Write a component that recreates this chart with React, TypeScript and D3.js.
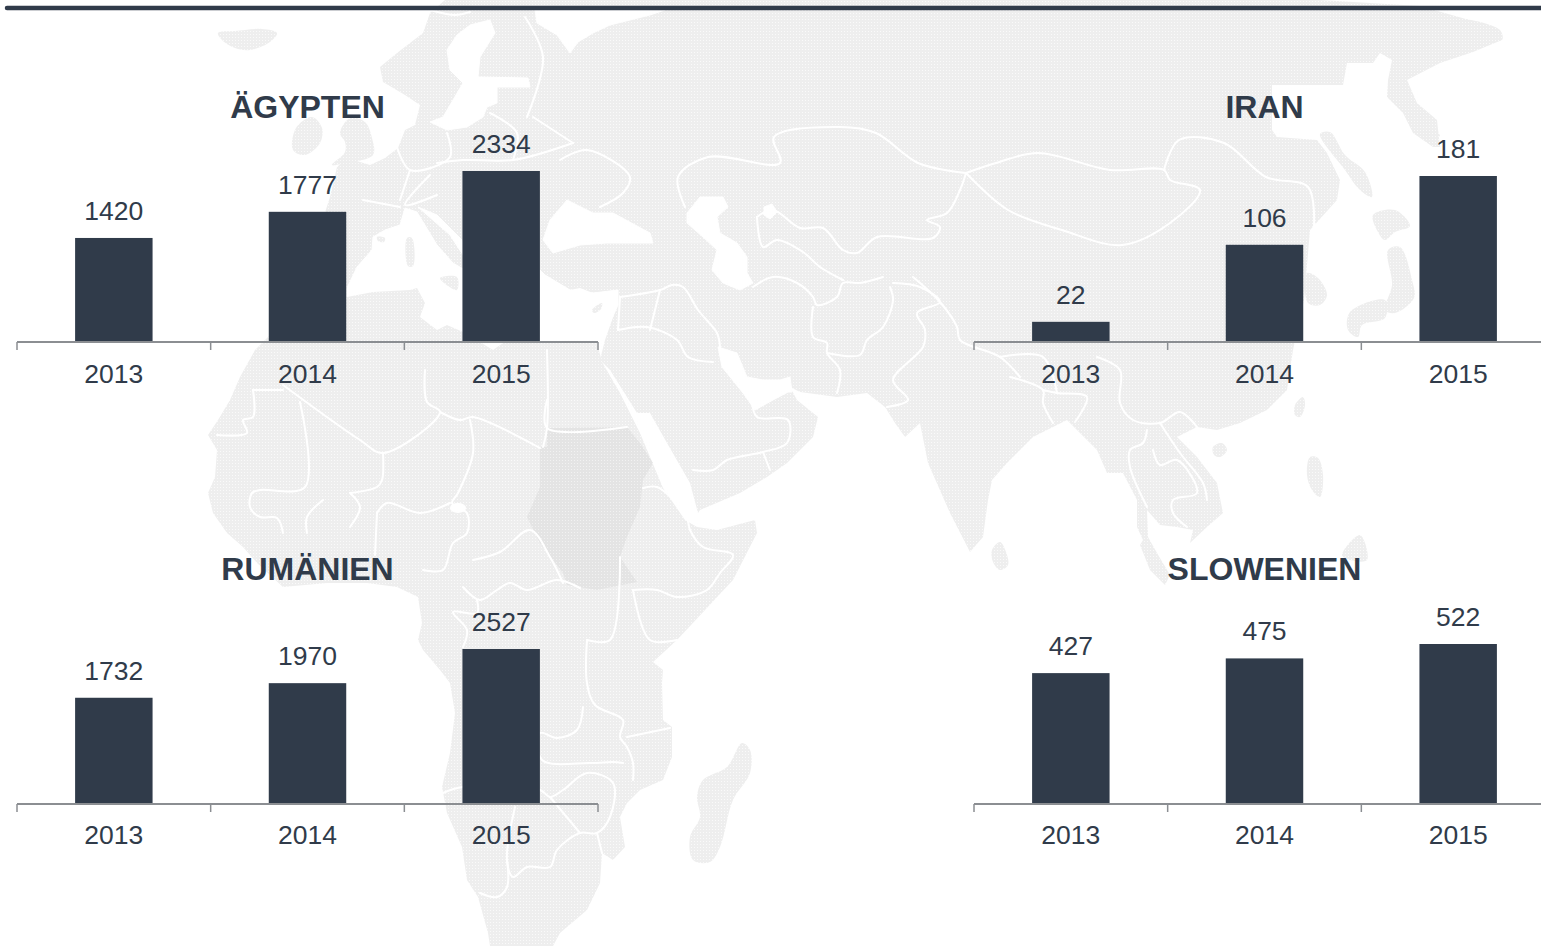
import React from "react";
import * as d3 from "d3";

// ---------- chart data ----------
const years = ["2013", "2014", "2015"];
const egyptValues = [1420, 1777, 2334];
const iranValues = [22, 106, 181];
const romaniaValues = [1732, 1970, 2527];
const sloveniaValues = [427, 475, 522];
const panelTitles = ["ÄGYPTEN", "IRAN", "RUMÄNIEN", "SLOWENIEN"];

// ---------- decorative backdrop map outlines ----------
type P = [number, number];
const eurasia: P[] = [[330,197],[337,167],[347,158],[370,165],[385,158],[398,148],[405,130],[415,125],[420,105],[405,95],[383,82],[380,67],[397,53],[423,33],[430,13],[445,0],[1320,0],[1420,6],[1494,27],[1502,40],[1473,52],[1440,63],[1407,80],[1417,103],[1437,120],[1440,147],[1433,147],[1413,133],[1403,113],[1387,97],[1388,80],[1392,60],[1380,53],[1373,63],[1347,63],[1343,85],[1272,85],[1272,130],[1277,137],[1317,140],[1327,153],[1340,180],[1337,200],[1310,230],[1304,300],[1293,350],[1287,390],[1267,410],[1240,423],[1217,430],[1197,427],[1177,437],[1197,457],[1217,483],[1223,513],[1207,527],[1190,543],[1193,530],[1177,527],[1160,525],[1147,510],[1148,537],[1157,553],[1170,575],[1165,585],[1150,570],[1140,545],[1143,540],[1137,527],[1137,500],[1123,473],[1107,473],[1097,450],[1080,433],[1067,420],[1033,437],[1007,463],[992,480],[988,500],[983,537],[970,552],[950,513],[928,463],[920,423],[905,437],[895,423],[885,407],[867,393],[837,397],[800,392],[790,387],[797,400],[818,417],[813,437],[787,463],[767,477],[740,493],[700,510],[698,513],[690,483],[667,443],[650,413],[637,413],[610,370],[600,360],[605,340],[618,303],[618,290],[593,293],[580,288],[570,290],[545,275],[540,280],[463,300],[347,300],[300,290]];
const africa: P[] = [[240,377],[255,350],[270,335],[290,300],[347,297],[373,292],[410,290],[417,288],[425,303],[420,317],[437,330],[447,325],[463,332],[480,342],[493,350],[503,343],[540,343],[570,342],[597,343],[602,362],[620,393],[640,433],[663,488],[685,520],[697,527],[717,530],[755,520],[757,533],[733,580],[677,640],[653,662],[663,670],[662,683],[663,720],[672,727],[672,757],[663,780],[640,790],[627,803],[620,817],[625,847],[613,860],[602,853],[600,883],[587,910],[560,933],[553,946],[490,946],[488,933],[478,897],[467,880],[462,847],[447,813],[442,787],[450,753],[455,713],[450,683],[440,670],[423,650],[418,640],[422,623],[418,597],[397,587],[367,583],[327,583],[283,587],[257,563],[243,547],[227,533],[213,513],[208,493],[215,477],[217,450],[208,435],[218,420],[230,400]];
const sudan: P[] = [[547,428],[627,427],[640,443],[653,463],[643,480],[640,507],[627,537],[620,557],[637,582],[597,590],[567,585],[563,573],[540,543],[527,517],[540,487],[540,447],[547,447]];
const seas: P[][] = [
  [[347,288],[357,267],[372,250],[373,237],[385,230],[400,225],[405,208],[417,212],[437,245],[453,263],[465,270],[540,270],[545,275],[570,290],[593,293],[618,290],[618,305],[600,345],[347,345]],
  [[418,207],[437,215],[462,240],[465,258],[450,235]],
  [[543,240],[550,220],[567,200],[593,213],[613,213],[650,233],[653,243],[607,243],[580,245],[553,253]],
  [[687,213],[700,197],[723,197],[728,207],[717,217],[720,233],[737,243],[747,257],[747,273],[753,283],[740,290],[723,283],[712,270],[717,250],[703,237],[687,223]],
  [[764,207],[772,204],[777,212],[770,219],[764,215]],
  [[718,347],[737,353],[747,377],[763,380],[780,380],[790,377],[792,392],[788,392],[773,400],[755,410],[743,393],[722,367]],
  [[490,20],[495,33],[480,57],[478,77],[528,78],[530,87],[497,87],[497,103],[487,107],[483,117],[467,127],[447,130],[430,122],[443,117],[453,100],[463,83],[450,70],[447,50],[457,35],[470,25]],
  [[535,10],[537,23],[557,35],[570,53],[578,42],[593,33],[610,25],[650,15],[665,10]],
];
const islands: P[][] = [
  [[218,33],[235,31],[262,29],[277,33],[270,42],[250,50],[235,48],[222,40]],
  [[296,128],[312,117],[322,128],[320,143],[305,155],[293,150]],
  [[345,142],[340,133],[350,118],[365,122],[372,138],[373,155],[345,163],[332,165],[345,152]],
  [[377,237],[385,238],[384,242],[378,241]],
  [[407,238],[412,238],[413,266],[408,266]],
  [[440,278],[457,277],[457,290],[448,286]],
  [[592,310],[602,303],[601,309],[594,313]],
  [[742,743],[750,750],[750,773],[733,800],[720,847],[710,862],[693,860],[690,837],[700,817],[697,797],[703,780],[727,767]],
  [[1000,542],[1006,552],[1008,565],[1000,570],[993,562],[992,550]],
  [[1213,447],[1222,443],[1227,450],[1220,457],[1214,455]],
  [[1295,405],[1303,397],[1305,405],[1300,417],[1295,415]],
  [[1310,457],[1318,458],[1323,475],[1320,497],[1312,490],[1307,475]],
  [[1342,555],[1360,535],[1367,560],[1350,560]],
  [[1373,215],[1395,210],[1410,226],[1395,232],[1385,240],[1378,232]],
  [[1388,250],[1400,247],[1412,280],[1414,298],[1395,313],[1385,310],[1392,285]],
  [[1350,312],[1385,300],[1385,318],[1362,325],[1358,337],[1348,330]],
  [[1307,273],[1318,278],[1327,295],[1320,305],[1308,303]],
  [[1320,134],[1330,132],[1345,155],[1365,172],[1372,197],[1360,190],[1345,170]],
  [[1412,120],[1425,122],[1440,136],[1428,135]],
  [[1463,20],[1500,30],[1502,40],[1470,30]],
];
const borders: P[][] = [
  [[253,390],[283,390]],[[253,390],[253,417],[243,420],[247,433],[217,435]],
  [[300,402],[305,487],[260,490],[252,493],[250,507],[260,517],[277,518],[283,533]],
  [[283,385],[360,440],[383,453],[440,412],[427,402],[425,370]],
  [[543,447],[547,428],[547,350]],[[440,412],[460,420],[473,417],[540,448]],
  [[470,420],[473,453],[458,493],[452,503],[467,513],[467,533],[453,543],[443,570],[423,570]],
  [[383,453],[382,480],[377,487],[350,493]],[[377,513],[387,503],[420,513],[450,503]],
  [[350,493],[360,507],[350,527]],[[323,500],[307,517],[307,533]],[[377,513],[375,555]],
  [[473,560],[500,552],[530,530],[550,557],[563,583]],
  [[463,587],[480,600],[497,590],[510,583],[527,590],[557,580],[580,588]],
  [[477,600],[477,613],[453,612],[467,630],[463,647]],
  [[587,640],[587,683],[595,705],[623,720],[620,737],[627,747],[633,763],[633,780]],
  [[583,707],[577,730],[557,738],[540,733],[542,760],[590,763],[613,762],[623,763]],
  [[443,793],[463,787],[540,790],[550,797],[563,790],[587,773],[613,783],[610,817],[597,833],[580,833],[557,850],[550,867],[527,867],[513,877],[507,860],[515,807]],
  [[507,860],[507,887],[497,897],[480,893]],[[550,797],[580,833]],[[627,737],[670,728]],[[597,833],[602,853]],
  [[643,488],[657,487],[680,507],[687,517],[690,530],[703,547],[733,555],[720,573],[707,590],[677,597],[657,590],[633,590]],
  [[547,400],[547,428],[627,427]],[[620,557],[610,640],[587,640]],[[633,590],[650,640],[677,640]],
  [[693,470],[713,470],[727,460],[763,452],[787,443],[788,420],[757,417],[752,400]],[[763,452],[770,470]],
  [[620,297],[660,290],[672,285],[683,287],[698,310],[717,333],[720,347]],
  [[618,330],[647,327],[677,340],[688,357],[713,362]],[[660,290],[650,330]],[[620,297],[618,330]],
  [[813,307],[813,337],[827,343],[827,353],[840,370],[837,393]],
  [[827,353],[860,355],[867,340],[883,327],[893,300],[890,287]],
  [[753,287],[773,277],[797,283],[813,297],[817,305],[837,297],[843,283],[860,283],[883,277]],
  [[757,217],[763,247],[777,240],[803,252],[820,267],[843,280]],
  [[757,217],[773,210],[800,228],[823,228],[843,250],[857,253],[877,237],[933,238],[940,227],[927,220],[947,213],[960,190],[966,173]],
  [[893,283],[920,287],[940,302],[917,313],[925,330],[923,347],[893,380],[908,400],[887,407]],
  [[913,277],[940,302],[957,327],[960,340],[1000,357],[1020,377]],[[1000,357],[1043,357],[1057,393]],
  [[966,173],[918,163],[876,133],[840,127],[774,137],[780,163],[708,157],[678,177],[685,207]],
  [[966,173],[1008,210],[1062,230],[1122,245],[1170,223],[1200,190],[1170,180],[1164,170],[1110,170],[1038,153],[996,163],[966,173]],
  [[1164,170],[1179,140],[1224,143],[1266,177],[1308,187],[1314,227]],
  [[527,117],[543,57],[525,17]],[[533,117],[573,143]],[[560,160],[587,150],[630,177],[623,193],[600,207]],
  [[513,160],[517,133],[490,113]],[[447,133],[450,157],[410,170],[397,147]],[[410,170],[400,200]],
  [[437,163],[463,160],[513,160],[573,143]],[[363,200],[400,207]],[[430,175],[405,205],[437,195]],
  [[430,10],[455,15],[470,12]],[[1097,357],[1120,370],[1120,403],[1133,420],[1160,423],[1180,412],[1197,427]],
  [[1160,423],[1180,453],[1203,483],[1207,500]],[[1147,430],[1143,443],[1130,450],[1130,467],[1147,507]],
  [[1153,450],[1160,465],[1177,460],[1197,493],[1173,500],[1173,513],[1187,527]],
  [[1010,377],[1043,390],[1043,403],[1053,423]],[[1043,390],[1057,393],[1087,397],[1075,422]],
];

// ---------- panels ----------
const BAR = "#303b4a";
const AXIS = "#8b8e92";
const panels = [
  { title: panelTitles[0], values: egyptValues, x0: 17, base: 342, height: 171, tickLabelGap: 41 },
  { title: panelTitles[1], values: iranValues, x0: 974, base: 342, height: 166, tickLabelGap: 41 },
  { title: panelTitles[2], values: romaniaValues, x0: 17, base: 804, height: 155, tickLabelGap: 40 },
  { title: panelTitles[3], values: sloveniaValues, x0: 974, base: 804, height: 160, tickLabelGap: 40 },
];
const PANEL_W = 581;
const FONT = "'Liberation Sans', Arial, sans-serif";

const closed = d3.line<P>().curve(d3.curveLinearClosed);
const roundClosed = d3.line<P>().curve(d3.curveCatmullRomClosed.alpha(0.5));
const open = d3.line<P>().curve(d3.curveCatmullRom.alpha(0.5));

function Panel({ p }: { p: (typeof panels)[number] }) {
  const x = d3.scaleBand<string>().domain(years).range([p.x0, p.x0 + PANEL_W]).paddingInner(0.6).paddingOuter(0.3);
  const y = d3.scaleLinear().domain([0, d3.max(p.values)!]).range([p.base, p.base - p.height]);
  const step = x.step();
  const ticks = d3.range(years.length + 1).map((i) => p.x0 + i * step);
  const cx = x(years[1])! + x.bandwidth() / 2;
  return (
    <g fontFamily={FONT} fill={BAR}>
      <text x={cx} y={p.base - 224} textAnchor="middle" fontWeight="bold" fontSize={32}>{p.title}</text>
      {p.values.map((v, i) => (
        <g key={years[i]}>
          <rect x={x(years[i])} y={y(v)} width={x.bandwidth()} height={p.base - y(v)} fill={BAR} />
          <text x={x(years[i])! + x.bandwidth() / 2} y={y(v) - 18} textAnchor="middle" fontSize={26.5}>{v}</text>
          <text x={x(years[i])! + x.bandwidth() / 2} y={p.base + p.tickLabelGap} textAnchor="middle" fontSize={26.5}>{years[i]}</text>
        </g>
      ))}
      <line x1={p.x0} x2={p.x0 + PANEL_W} y1={p.base} y2={p.base} stroke={AXIS} strokeWidth={2} />
      {ticks.map((t) => (
        <line key={t} x1={t} x2={t} y1={p.base} y2={p.base + 8} stroke={AXIS} strokeWidth={1.5} />
      ))}
    </g>
  );
}

export default function App() {
  return (
    <svg width={1541} height={946} viewBox="0 0 1541 946" style={{ position: "absolute", left: 0, top: 0, display: "block" }}>
      <defs>
        <pattern id="land" width={3} height={3} patternUnits="userSpaceOnUse">
          <rect width={3} height={3} fill="#eeeeee" />
          <rect width={1} height={1} x={1} y={1} fill="#fafafa" />
        </pattern>
        <pattern id="landDark" width={3} height={3} patternUnits="userSpaceOnUse">
          <rect width={3} height={3} fill="#e4e4e4" />
          <rect width={1} height={1} x={1} y={1} fill="#f2f2f2" />
        </pattern>
      </defs>
      <rect width={1541} height={946} fill="#ffffff" />
      <path d={closed(eurasia)!} fill="url(#land)" />
      {seas.map((s, i) => <path key={i} d={closed(s)!} fill="#ffffff" stroke="#ffffff" />)}
      <path d={closed(africa)!} fill="url(#land)" />
      {islands.map((s, i) => <path key={i} d={roundClosed(s)!} fill="url(#land)" />)}
      <path d={closed(sudan)!} fill="url(#landDark)" />
      <ellipse cx={458} cy={508} rx={8} ry={5} fill="#ffffff" />
      {borders.map((b, i) => (
        <path key={i} d={open(b)!} fill="none" stroke="#ffffff" strokeWidth={2} strokeLinejoin="round" strokeLinecap="round" />
      ))}
      <line x1={7} x2={1541} y1={8} y2={8} stroke={BAR} strokeWidth={4.5} strokeLinecap="round" />
      {panels.map((p) => <Panel key={p.title} p={p} />)}
    </svg>
  );
}
